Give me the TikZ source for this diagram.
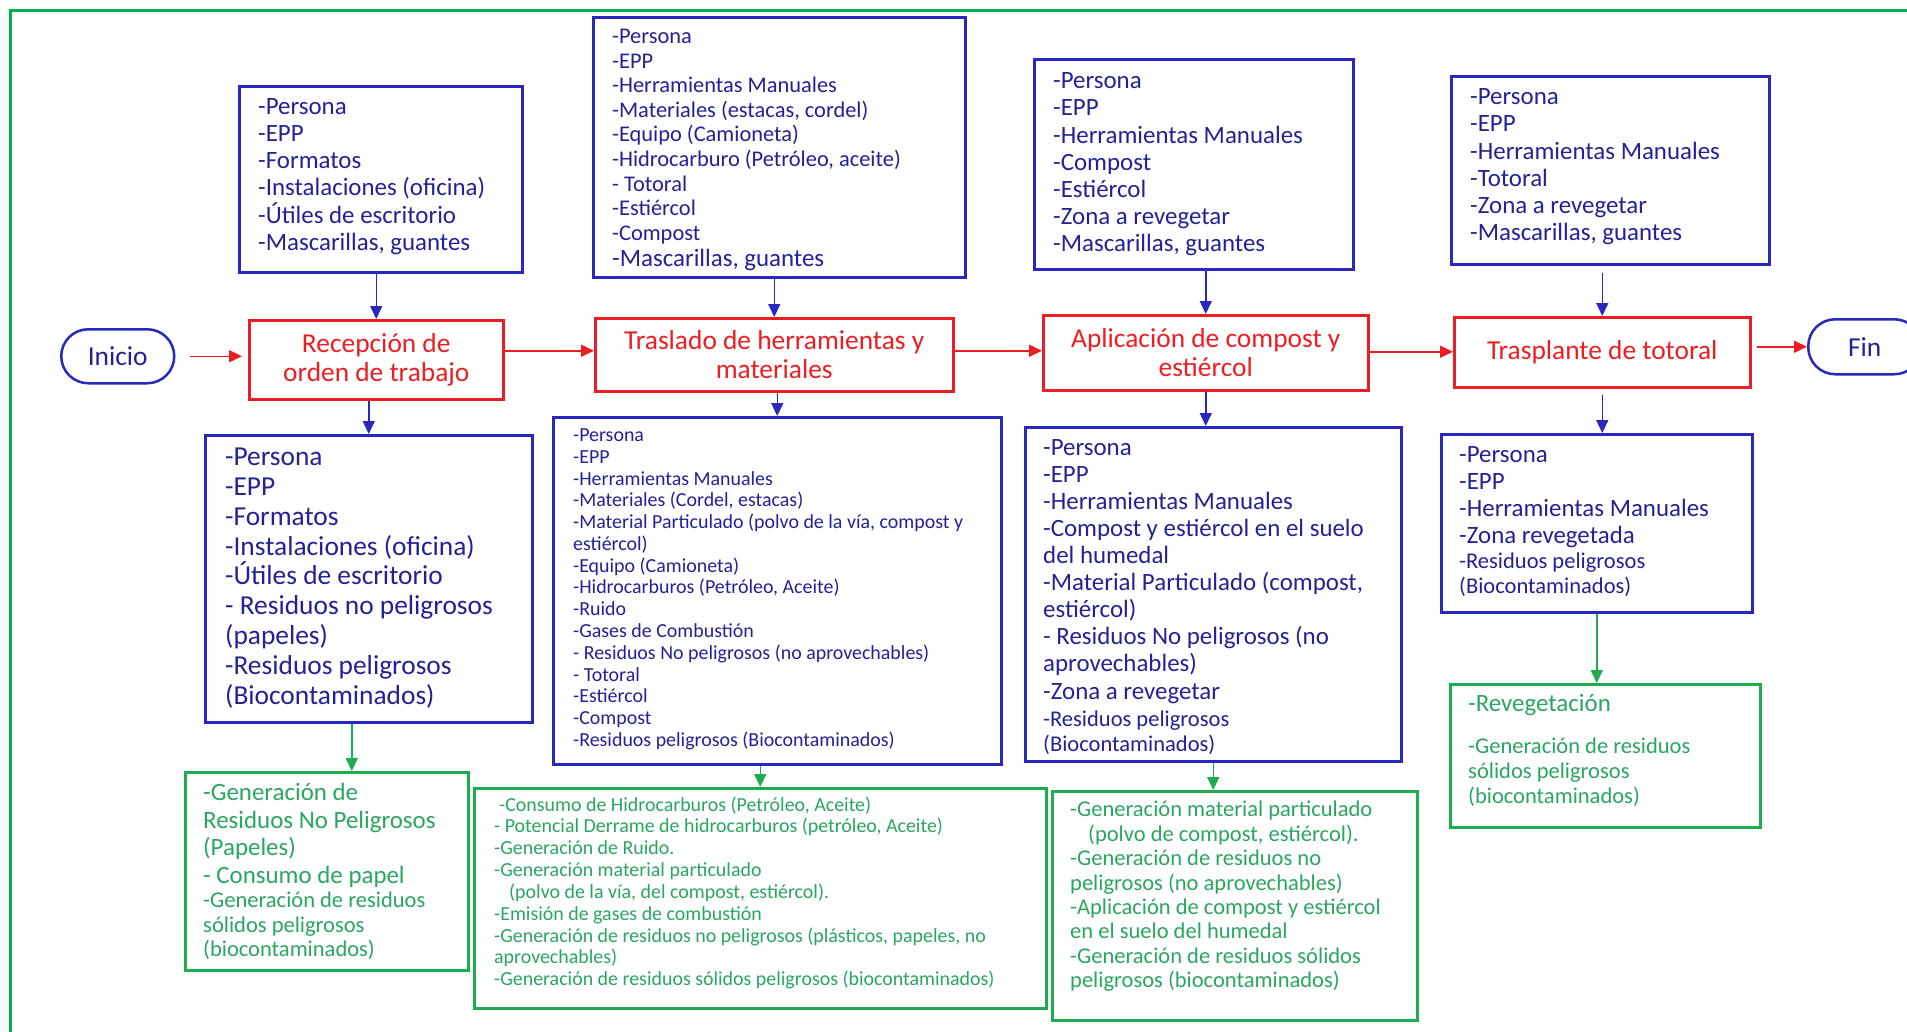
\documentclass[tikz,border=0pt]{standalone}
\usepackage{fontspec}
\setmainfont{Carlito}
\usetikzlibrary{arrows.meta}

\definecolor{bluetext}{RGB}{34,34,150}
\definecolor{blueline}{RGB}{40,40,190}
\definecolor{redc}{RGB}{236,30,36}
\definecolor{greenline}{RGB}{30,172,80}
\definecolor{greentext}{RGB}{42,166,96}
\definecolor{framegreen}{RGB}{0,176,80}

\lineskiplimit=-16000pt
\newcommand\fs[2]{\fontsize{#1}{#2}\selectfont}
\newcommand\lnstrut{\rule{0pt}{0.75em}}

\tikzset{
  inbox/.style={draw=blueline, line width=2.5bp, rectangle, inner sep=0pt, anchor=north west},
  outbox/.style={draw=greenline, line width=2.5bp, rectangle, inner sep=0pt, anchor=north west},
  procbox/.style={draw=redc, line width=2.5bp, rectangle, inner sep=0pt, anchor=north west,
    text=redc, align=center, font={\fs{27.5}{29}}},
  endbox/.style={draw=blueline, line width=2.5bp, rectangle, rounded corners=27bp, inner sep=0pt,
    anchor=north west, text=bluetext, font={\fs{27.5}{29}}},
  txt/.style={anchor=north west, inner sep=0pt, align=left},
  btxt/.style={txt, text=bluetext},
  gtxt/.style={txt, text=greentext},
  big/.style={font={\fs{25}{27.2}}},
  mid/.style={font={\fs{22.6}{24.5}}},
  small/.style={font={\fs{20}{21.85}}},
  arrowbase/.style={line width=1.5bp, -{Triangle[length=13bp,width=12bp]}},
  bluearrow/.style={arrowbase, draw=blueline, fill=blueline},
  redarrow/.style={arrowbase, draw=redc, fill=redc},
  greenarrow/.style={arrowbase, draw=greenline, fill=greenline},
}

\begin{document}
\begin{tikzpicture}[x=1bp,y=-1bp]
\useasboundingbox (0,0) rectangle (1907,1031);
\clip (0,0) rectangle (1907,1031);
\fill[white] (0,0) rectangle (1907,1031);
% outer frame
\draw[framegreen, line width=3bp] (10,10) rectangle (1945,1060);

% ---- main process row ----
\node[endbox, minimum width=113bp, minimum height=54bp] (ini) at (60,328) {Inicio};
\node[procbox, minimum width=254bp, minimum height=79bp] (rec) at (248,319) {Recepción de\\orden de trabajo};
\node[procbox, minimum width=358bp, minimum height=73bp] (tras) at (594,317) {Traslado de herramientas y\\materiales};
\node[procbox, minimum width=325bp, minimum height=75bp] (apl) at (1042,314) {Aplicación de compost y\\estiércol};
\node[procbox, minimum width=296bp, minimum height=70bp] (tra) at (1453,316) {Trasplante de totoral};
\node[endbox, minimum width=113bp, minimum height=55bp] (fin) at (1807,318) {Fin};

% ---- input boxes (above) ----
\node[inbox, minimum width=283bp, minimum height=186bp] (a1) at (238,85) {};
\node[btxt, big] (a1t) at (258,95.8) {\lnstrut-Persona\\-EPP\\-Formatos\\-Instalaciones (oficina)\\-Útiles de escritorio\\-Mascarillas, guantes};

\node[inbox, minimum width=372bp, minimum height=260bp] (a2) at (592,16) {};
\node[btxt, font={\fs{22.5}{24.7}}] (a2t) at (612,26.4) {\lnstrut-Persona\\-EPP\\-Herramientas Manuales\\-Materiales (estacas, cordel)\\-Equipo (Camioneta)\\-Hidrocarburo (Petróleo, aceite)\\- Totoral\\-Estiércol\\-Compost};
\node[btxt, big] (a2u) at (612,247.8) {\lnstrut-Mascarillas, guantes};

\node[inbox, minimum width=319bp, minimum height=210bp] (a3) at (1033,58) {};
\node[btxt, big] (a3t) at (1053,70) {\lnstrut-Persona\\-EPP\\-Herramientas Manuales\\-Compost\\-Estiércol\\-Zona a revegetar\\-Mascarillas, guantes};

\node[inbox, minimum width=318bp, minimum height=188bp] (a4) at (1450,75) {};
\node[btxt, big] (a4t) at (1470,86) {\lnstrut-Persona\\-EPP\\-Herramientas Manuales\\-Totoral\\-Zona a revegetar\\-Mascarillas, guantes};

% ---- output boxes (below) ----
\node[inbox, minimum width=327bp, minimum height=287bp] (b1) at (204,434) {};
\node[btxt, font={\fs{27.5}{30}}] (b1t) at (225,444.6) {\lnstrut-Persona\\-EPP\\-Formatos\\-Instalaciones (oficina)\\-Útiles de escritorio\\- Residuos no peligrosos\\(papeles)\\-Residuos peligrosos\\(Biocontaminados)};

\node[inbox, minimum width=448bp, minimum height=347bp] (b2) at (552,416) {};
\node[btxt, small] (b2t) at (573,426.4) {\lnstrut-Persona\\-EPP\\-Herramientas Manuales\\-Materiales (Cordel, estacas)\\-Material Particulado (polvo de la vía, compost y\\estiércol)\\-Equipo (Camioneta)\\-Hidrocarburos (Petróleo, Aceite)\\-Ruido\\-Gases de Combustión\\- Residuos No peligrosos (no aprovechables)\\- Totoral\\-Estiércol\\-Compost\\-Residuos peligrosos (Biocontaminados)};

\node[inbox, minimum width=376bp, minimum height=334bp] (b3) at (1024,426) {};
\node[btxt, big] (b3t) at (1043,436.3) {\lnstrut-Persona\\-EPP\\-Herramientas Manuales\\-Compost y estiércol en el suelo\\del humedal\\-Material Particulado (compost,\\estiércol)\\- Residuos No peligrosos (no\\aprovechables)\\-Zona a revegetar};
\node[btxt, mid] (b3u) at (1043,709.8) {\lnstrut-Residuos peligrosos\\(Biocontaminados)};

\node[inbox, minimum width=311bp, minimum height=178bp] (b4) at (1440,433) {};
\node[btxt, big] (b4t) at (1459,443.7) {\lnstrut-Persona\\-EPP\\-Herramientas Manuales\\-Zona revegetada};
\node[btxt, mid] (b4u) at (1459,551.8) {\lnstrut-Residuos peligrosos\\(Biocontaminados)};

% ---- environmental aspect boxes ----
\node[outbox, minimum width=283bp, minimum height=198bp] (g1) at (184,771) {};
\node[gtxt, font={\fs{25}{27.6}}] (g1t) at (203,781.7) {\lnstrut-Generación de\\Residuos No Peligrosos\\(Papeles)\\- Consumo de papel};
\node[gtxt, font={\fs{22.6}{24.3}}] (g1u) at (203,890.8) {\lnstrut-Generación de residuos\\sólidos peligrosos\\(biocontaminados)};

\node[outbox, minimum width=572bp, minimum height=220bp] (g2) at (473,787) {};
\node[gtxt, font={\fs{20}{21.9}}] (g2t) at (494,796) {\lnstrut\hspace*{5bp}-Consumo de Hidrocarburos (Petróleo, Aceite)\\- Potencial Derrame de hidrocarburos (petróleo, Aceite)\\-Generación de Ruido.\\-Generación material particulado\\\hspace*{15bp}(polvo de la vía, del compost, estiércol).\\-Emisión de gases de combustión\\-Generación de residuos no peligrosos (plásticos, papeles, no\\aprovechables)\\-Generación de residuos sólidos peligrosos (biocontaminados)};

\node[outbox, minimum width=365bp, minimum height=229bp] (g3) at (1051,790) {};
\node[gtxt, mid] (g3t) at (1070,799.8) {\lnstrut-Generación material particulado\\\hspace*{18bp}(polvo de compost, estiércol).\\-Generación de residuos no\\peligrosos (no aprovechables)\\-Aplicación de compost y estiércol\\en el suelo del humedal\\-Generación de residuos sólidos\\peligrosos (biocontaminados)};

\node[outbox, minimum width=310bp, minimum height=143bp] (g4) at (1449,683) {};
\node[gtxt, big] (g4t) at (1468,692.7) {\lnstrut-Revegetación};
\node[gtxt, font={\fs{22.6}{25}}] (g4u) at (1468,736.6) {\lnstrut-Generación de residuos\\sólidos peligrosos\\(biocontaminados)};

% ---- flow along the process row ----
\draw[redarrow, shorten <=14bp, shorten >=6bp] (ini.east) -- (rec.west |- ini.east);
\draw[redarrow] ([yshift=4bp]tras.west -| rec.east) -- ([yshift=4bp]tras.west);
\draw[redarrow] ([yshift=2bp]apl.west -| tras.east) -- ([yshift=2bp]apl.west);
\draw[redarrow] ([yshift=1bp]apl.east) -- ([yshift=1bp]apl.east -| tra.west);
\draw[redarrow, shorten <=5bp] (tra.east |- fin.west) -- (fin.west);

% ---- inputs into each step ----
\draw[bluearrow] (a1.south -| rec.north) -- (rec.north);
\draw[bluearrow] (a2.south -| tras.north) -- (tras.north);
\draw[bluearrow] (a3.south -| apl.north) -- (apl.north);
\draw[bluearrow, shorten <=7bp] (a4.south -| tra.north) -- (tra.north);

% ---- outputs of each step ----
\draw[bluearrow] (rec.south -| b1.north) -- (b1.north);
\draw[bluearrow] (tras.south -| b2.north) -- (b2.north);
\draw[bluearrow] (apl.south) -- (apl.south |- b3.north);
\draw[bluearrow, shorten <=6bp] (tra.south) -- (tra.south |- b4.north);

% ---- environmental aspects ----
\draw[greenarrow] ([xshift=-17bp]b1.south) -- ([xshift=-17bp]b1.south |- g1.north);
\draw[greenarrow] (g2.north |- b2.south) -- (g2.north);
\draw[greenarrow] (b3.south) -- (b3.south |- g3.north);
\draw[greenarrow] (b4.south) -- (b4.south |- g4.north);
\end{tikzpicture}
\end{document}
